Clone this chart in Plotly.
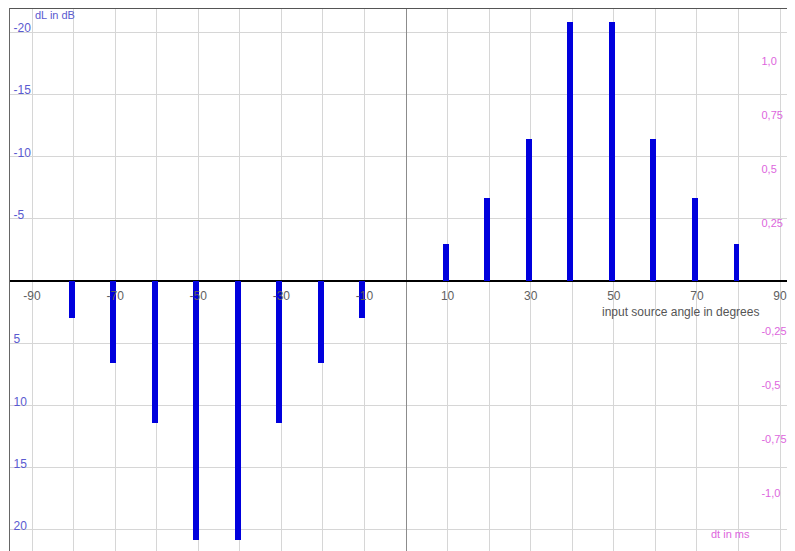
import plotly.graph_objects as go

# angles (degrees) and level differences (dB)
angles_neg = [-80, -70, -60, -50, -40, -30, -20, -10]
dl_neg = [3.0, 6.6, 11.4, 20.8, 20.8, 11.4, 6.6, 3.0]
angles_pos = [10, 20, 30, 40, 50, 60, 70, 80]
dl_pos = [-3.0, -6.7, -11.4, -20.8, -20.8, -11.4, -6.7, -3.0]

x_tickvals = list(range(-90, 91, 10))
x_ticktext = ["-90", "", "-70", "", "-50", "", "-30", "", "-10", "",
              "10", "", "30", "", "50", "", "70", "", "90"]
y_tickvals = [-20, -15, -10, -5, 5, 10, 15, 20]
y_ticktext = ["-20", "-15", "-10", "-5", "5", "10", "15", "20"]
dt_tickvals = [1.0, 0.75, 0.5, 0.25, -0.25, -0.5, -0.75, -1.0]
dt_ticktext = ["1,0", "0,75", "0,5", "0,25", "-0,25", "-0,5", "-0,75", "-1,0"]

FONT = "Arial, Liberation Sans, sans-serif"
BLUE = "#0000dd"
LBLUE = "#5a5ad0"
PINK = "#dd66dd"

Y_BOTTOM, Y_TOP = 21.7, -21.93

fig = go.Figure()
fig.add_trace(go.Bar(x=angles_neg + angles_pos, y=dl_neg + dl_pos,
                     marker=dict(color=BLUE, line=dict(width=0)),
                     width=1.44, offset=-1.2, hoverinfo="skip"))
fig.add_trace(go.Scatter(x=[0], y=[0], yaxis="y2", mode="markers",
                         marker=dict(opacity=0), hoverinfo="skip"))

fig.update_layout(
    width=787, height=543,
    margin=dict(l=2, r=0, t=0, b=0),
    paper_bgcolor="white", plot_bgcolor="white",
    showlegend=False,
    font=dict(family=FONT, size=12),
    bargap=0,
    xaxis=dict(range=[-95.3, 93.6], tickvals=x_tickvals, ticktext=x_ticktext,
               showgrid=True, gridcolor="#d6d6d6", gridwidth=1,
               zeroline=True, zerolinecolor="#8c8c8c", zerolinewidth=1,
               anchor="free", position=Y_BOTTOM / (Y_BOTTOM - Y_TOP),
               showline=False, ticks="", ticklabelstandoff=6,
               tickfont=dict(color="#606060", size=12), fixedrange=True),
    yaxis=dict(range=[Y_BOTTOM, Y_TOP], tickvals=y_tickvals, ticktext=y_ticktext,
               showgrid=True, gridcolor="#d6d6d6", gridwidth=1,
               zeroline=True, zerolinecolor="black", zerolinewidth=2,
               showline=True, linecolor="#666666", linewidth=1,
               ticks="inside", ticklen=3, tickcolor="rgba(0,0,0,0)",
               ticklabelposition="inside", ticklabelshift=4,
               tickfont=dict(color=LBLUE, size=12), fixedrange=True),
    yaxis2=dict(range=[-1.268, 1.245], overlaying="y", anchor="free",
                position=0.956, side="right", tickvals=dt_tickvals,
                ticktext=dt_ticktext, showgrid=False, zeroline=False,
                showline=False, ticks="", automargin=False,
                tickfont=dict(color=PINK, size=11), fixedrange=True),
)

fig.add_shape(type="line", xref="paper", yref="paper", x0=0, x1=1, y0=1, y1=1,
              line=dict(color="#555555", width=2))

fig.add_annotation(x=-89.8, y=-21.4, xref="x", yref="y", text="dL in dB",
                   showarrow=False, xanchor="left", yanchor="middle",
                   font=dict(color=LBLUE, size=11))
fig.add_annotation(x=66, y=2.5, xref="x", yref="y",
                   text="input source angle in degrees", showarrow=False,
                   xanchor="center", yanchor="middle",
                   font=dict(color="#555555", size=12))
fig.add_annotation(x=78, y=20.3, xref="x", yref="y", text="dt in ms",
                   showarrow=False, xanchor="center", yanchor="middle",
                   font=dict(color=PINK, size=11))

fig.write_html("out.html")
